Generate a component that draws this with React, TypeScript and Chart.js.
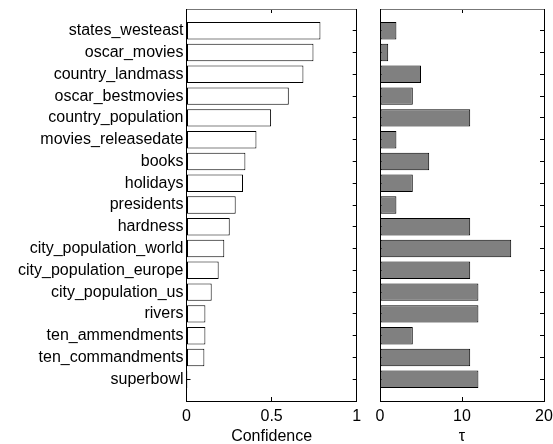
import React, { useEffect, useRef } from 'react';
import { Chart, registerables } from 'chart.js';

Chart.register(...registerables);

const categories = [
  'states_westeast',
  'oscar_movies',
  'country_landmass',
  'oscar_bestmovies',
  'country_population',
  'movies_releasedate',
  'books',
  'holidays',
  'presidents',
  'hardness',
  'city_population_world',
  'city_population_europe',
  'city_population_us',
  'rivers',
  'ten_ammendments',
  'ten_commandments',
  'superbowl',
];

const confidence = [0.787, 0.746, 0.687, 0.601, 0.497, 0.411, 0.346, 0.332, 0.289, 0.254, 0.222, 0.189, 0.148, 0.111, 0.111, 0.105, 0.005];
const tau = [2, 1, 5, 4, 11, 2, 6, 4, 2, 11, 16, 11, 12, 12, 4, 11, 12];

const confidenceTicks = [0, 0.5, 1];
const tauTicks = [0, 10, 20];

const FONT = { family: '"Liberation Sans", Arial, Helvetica, sans-serif', size: 16 };

type Params = {
  values: number[];
  fill: string;
  max: number;
  ticks: number[];
  title: string;
  showLabels: boolean;
  yWidth: number;
  rightPad: number;
};

function buildConfig(p: Params): any {
  const data = p.values.map((v, i) => ({ x: v, y: i + 1 }));
  const catTicks = (s: any) => {
    s.ticks = categories.map((_, i) => ({ value: i + 1 }));
  };
  const valTicks = (s: any) => {
    s.ticks = p.ticks.map((v) => ({ value: v }));
  };
  const grid = (color: string) => ({
    display: true,
    offset: false,
    drawOnChartArea: false,
    drawTicks: true,
    tickLength: -4,
    tickColor: color,
    lineWidth: 1,
  });
  const noPad = (s: any) => {
    s.paddingTop = 0;
    s.paddingBottom = 0;
    s.paddingLeft = 0;
    s.paddingRight = 0;
  };
  return {
    type: 'bar',
    data: {
      datasets: [
        {
          data,
          backgroundColor: p.fill,
          borderColor: '#000',
          borderWidth: 1,
          borderSkipped: false,
          barPercentage: 0.8,
          categoryPercentage: 1,
        },
      ],
    },
    options: {
      indexAxis: 'y',
      responsive: false,
      animation: false,
      events: [],
      layout: { padding: { left: 0, right: p.rightPad, top: 9, bottom: 0 } },
      plugins: { legend: { display: false }, tooltip: { enabled: false } },
      scales: {
        x: {
          type: 'linear',
          position: 'bottom',
          offset: false,
          min: 0,
          max: p.max,
          afterBuildTicks: valTicks,
          ticks: { font: FONT, color: '#000', padding: 10, maxRotation: 0, callback: (v: number) => String(v) },
          grid: grid('#000'),
          border: { display: true, color: '#000', width: 1 },
          title: { display: true, text: p.title, font: FONT, color: '#000', padding: { top: 0, bottom: -2 } },
          afterFit: (s: any) => {
            s.height = 43;
            noPad(s);
          },
        },
        x2: {
          type: 'linear',
          position: 'top',
          offset: false,
          min: 0,
          max: p.max,
          afterBuildTicks: valTicks,
          ticks: { display: false },
          grid: grid('#000'),
          border: { display: true, color: '#777', width: 1 },
          afterFit: (s: any) => {
            s.height = 0;
            noPad(s);
          },
        },
        y: {
          type: 'linear',
          position: 'left',
          offset: false,
          reverse: true,
          min: 0,
          max: 18,
          afterBuildTicks: catTicks,
          ticks: {
            display: p.showLabels,
            autoSkip: false,
            font: FONT,
            color: '#000',
            padding: 7,
            callback: (v: number) => categories[v - 1] ?? '',
          },
          grid: grid('#000'),
          border: { display: true, color: '#000', width: 1 },
          afterFit: (s: any) => {
            s.width = p.yWidth;
            noPad(s);
          },
        },
        y2: {
          type: 'linear',
          position: 'right',
          offset: false,
          reverse: true,
          min: 0,
          max: 18,
          afterBuildTicks: catTicks,
          ticks: { display: false },
          grid: grid('#000'),
          border: { display: true, color: '#000', width: 1 },
          afterFit: (s: any) => {
            s.width = 0;
            noPad(s);
          },
        },
      },
    },
  };
}

function Panel(props: { params: Params; left: number; width: number }) {
  const ref = useRef<HTMLCanvasElement | null>(null);
  useEffect(() => {
    if (!ref.current) return;
    const chart = new Chart(ref.current, buildConfig(props.params));
    return () => chart.destroy();
  }, []);
  return (
    <canvas
      ref={ref}
      width={props.width}
      height={444}
      style={{ position: 'absolute', left: props.left, top: 0, width: props.width, height: 444 }}
    />
  );
}

export default function App() {
  return (
    <div style={{ position: 'absolute', left: 0, top: 0, width: 553, height: 444, background: '#fff', overflow: 'hidden' }}>
      <Panel
        left={0}
        width={370}
        params={{
          values: confidence,
          fill: '#ffffff',
          max: 1,
          ticks: confidenceTicks,
          title: 'Confidence',
          showLabels: true,
          yWidth: 186.5,
          rightPad: 13.3,
        }}
      />
      <Panel
        left={362}
        width={191}
        params={{
          values: tau,
          fill: '#808080',
          max: 20,
          ticks: tauTicks,
          title: 'τ',
          showLabels: false,
          yWidth: 18,
          rightPad: 9,
        }}
      />
    </div>
  );
}
